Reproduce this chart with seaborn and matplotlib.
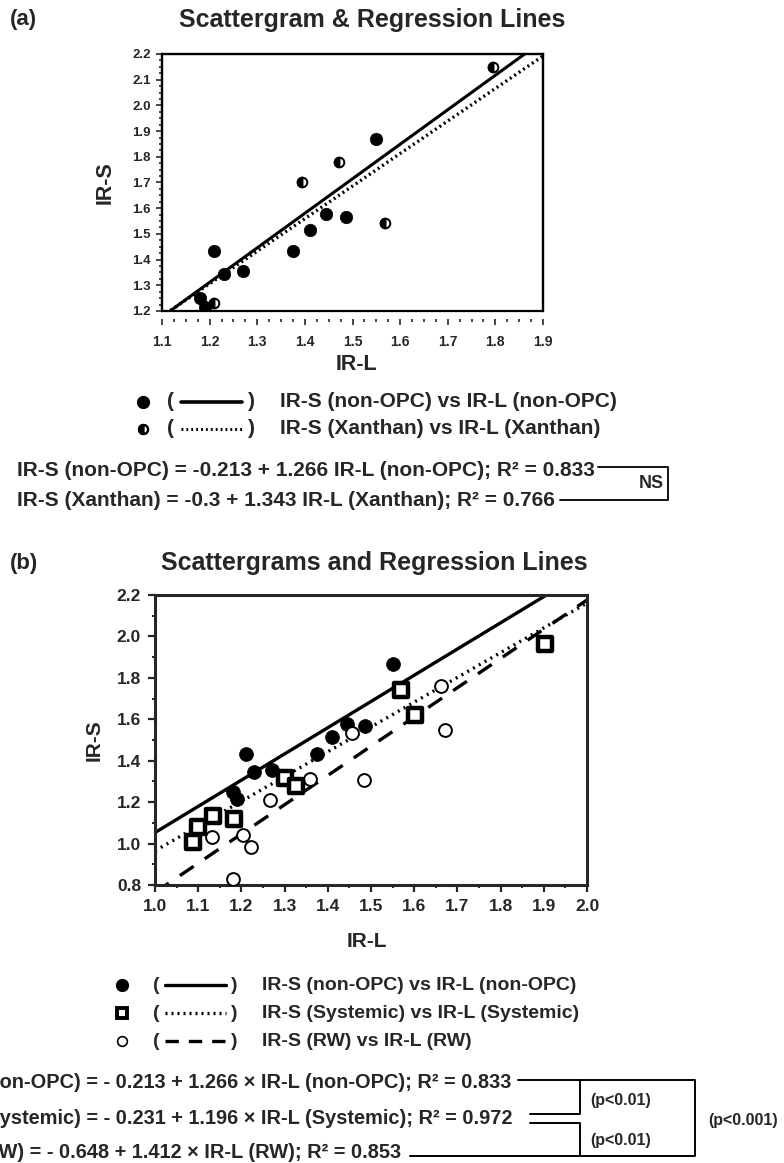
# %%
import numpy as np
import pandas as pd
import seaborn as sns
from matplotlib import pyplot as plt
from matplotlib.lines import Line2D
from matplotlib.markers import MarkerStyle
from matplotlib.patches import Rectangle
from matplotlib.ticker import MultipleLocator, FormatStrFormatter

# %%
# values
nonopc_x = [1.18, 1.19, 1.21, 1.23, 1.27, 1.375, 1.41, 1.445, 1.487, 1.55]
nonopc_y = [1.25, 1.215, 1.433, 1.345, 1.357, 1.434, 1.514, 1.577, 1.566, 1.868]

xanthan_x = [1.21, 1.395, 1.471, 1.568, 1.795]
xanthan_y = [1.233, 1.703, 1.779, 1.544, 2.15]

systemic_x = [1.089, 1.10, 1.135, 1.184, 1.302, 1.327, 1.57, 1.601, 1.903]
systemic_y = [1.01, 1.078, 1.132, 1.119, 1.318, 1.277, 1.739, 1.622, 1.962]

rw_x = [1.132, 1.18, 1.203, 1.222, 1.266, 1.359, 1.457, 1.484, 1.663, 1.671]
rw_y = [1.03, 0.828, 1.043, 0.983, 1.209, 1.31, 1.536, 1.305, 1.763, 1.548]

# regression coefficients (intercept, slope)
groups = ["non-OPC", "Xanthan", "Systemic", "RW"]
intercepts = [-0.213, -0.3, -0.231, -0.648]
slopes = [1.266, 1.343, 1.196, 1.412]
r2 = [0.833, 0.766, 0.972, 0.853]

W, H = 784, 1163


def fx(px):
    return px / W


def fy(py):
    return 1 - py / H


def axes_at(fig, left, top, right, bottom):
    return fig.add_axes([fx(left), fy(bottom), (right - left) / W, (bottom - top) / H])


def reg_line(ax, i, xlim, **kw):
    xs = np.array(xlim)
    ys = intercepts[i] + slopes[i] * xs
    sns.lineplot(x=xs, y=ys, ax=ax, color="black", legend=False, **kw)


def fline(fig, xs, ys, lw=1.4, **kw):
    fig.add_artist(Line2D([fx(v) for v in xs], [fy(v) for v in ys],
                          transform=fig.transFigure, color="black", lw=lw, **kw))


def fmark(fig, x, y, **kw):
    fig.add_artist(Line2D([fx(x)], [fy(y)], transform=fig.transFigure,
                          linestyle="none", color="black", **kw))


def style_axes(ax, tick_size, spine_w):
    ax.xaxis.set_major_formatter(FormatStrFormatter("%.1f"))
    ax.yaxis.set_major_formatter(FormatStrFormatter("%.1f"))
    for lab in ax.get_xticklabels() + ax.get_yticklabels():
        lab.set_fontweight("bold")
        lab.set_fontsize(tick_size)
    for sp in ax.spines.values():
        sp.set_linewidth(spine_w)
        sp.set_visible(True)


# %%
sns.set_style("ticks")
plt.rcParams["font.family"] = ["Liberation Sans", "DejaVu Sans"]
plt.rcParams["font.weight"] = "bold"

fig = plt.figure(figsize=(W / 100, H / 100), dpi=100)

# ---------------- panel (a) ----------------
ax1 = axes_at(fig, 162, 54, 543, 311)
xlim_a = (1.1, 1.9)
df_non = pd.DataFrame({"IR-L": nonopc_x, "IR-S": nonopc_y})
df_xan = pd.DataFrame({"IR-L": xanthan_x, "IR-S": xanthan_y})

# in the printed figure the steeper fit is the solid one
reg_line(ax1, 1, xlim_a, linewidth=2.2)
reg_line(ax1, 0, xlim_a, linewidth=2.4, linestyle=(0, (0.6, 1.0)))

sns.scatterplot(data=df_non, x="IR-L", y="IR-S", ax=ax1, color="black",
                s=80, edgecolor="black", linewidth=0.5, zorder=3)
sns.scatterplot(data=df_xan, x="IR-L", y="IR-S", ax=ax1, color="white",
                s=48, edgecolor="black", linewidth=1.4, zorder=3)
sns.scatterplot(data=df_xan, x="IR-L", y="IR-S", ax=ax1, color="black",
                marker=MarkerStyle("o", fillstyle="left"), s=48,
                edgecolor="black", linewidth=1.4, zorder=4)

ax1.set_xlim(*xlim_a)
ax1.set_ylim(1.2, 2.2)
ax1.xaxis.set_major_locator(MultipleLocator(0.1))
ax1.xaxis.set_minor_locator(MultipleLocator(0.025))
ax1.yaxis.set_major_locator(MultipleLocator(0.1))
ax1.yaxis.set_minor_locator(MultipleLocator(0.025))
ax1.tick_params(axis="both", which="major", length=4, width=1.2, pad=4)
ax1.tick_params(axis="both", which="minor", length=2, width=1.2)
ax1.tick_params(axis="x", which="major", pad=7)
style_axes(ax1, 9.5, 1.6)
# x ticks sit on a row just below the frame
ax1.spines["bottom"].set_position(("outward", 6))
ax1.spines["bottom"].set_visible(False)
ax1.add_patch(Rectangle((0, 0), 1, 1, transform=ax1.transAxes, fill=False,
                        lw=1.6, edgecolor="black", clip_on=False, zorder=5))
ax1.set_xlabel("IR-L", fontsize=15.5, fontweight="bold")
ax1.set_ylabel("IR-S", fontsize=15.5, fontweight="bold")
ax1.xaxis.set_label_coords(0.51, -0.167)
ax1.yaxis.set_label_coords(-0.123, 0.5)

fig.text(fx(10), fy(20), "(a)", fontsize=16, fontweight="bold", va="center")
fig.text(fx(372), fy(20), "Scattergram & Regression Lines", fontsize=18,
         fontweight="bold", ha="center", va="center")

# legend (a)
fmark(fig, 143, 402, marker="o", markersize=8.5)
fmark(fig, 143, 429, marker="o", markersize=6.5, markerfacecolor="white",
      markeredgewidth=1.6)
fmark(fig, 143, 429, marker="o", markersize=6.5, fillstyle="left",
      markerfacecoloralt="white", markeredgewidth=1.6)
for yy in (402, 429):
    fig.text(fx(171), fy(yy), "(", fontsize=15, va="center", ha="center")
    fig.text(fx(251), fy(yy), ")", fontsize=15, va="center", ha="center")
fline(fig, [181, 242], [402, 402], lw=2.6)
fline(fig, [181, 242], [429, 429], lw=2.2, linestyle=(0, (0.6, 1.0)))
fig.text(fx(280), fy(402), "IR-S (non-OPC) vs IR-L (non-OPC)", fontsize=15,
         fontweight="bold", va="center")
fig.text(fx(280), fy(429), "IR-S (Xanthan) vs IR-L (Xanthan)", fontsize=15,
         fontweight="bold", va="center")

# equations (a)
fig.text(fx(17), fy(470), "IR-S (non-OPC) = -0.213 + 1.266 IR-L (non-OPC); R² = 0.833",
         fontsize=15, fontweight="bold", va="center")
fig.text(fx(17), fy(500), "IR-S (Xanthan) = -0.3 + 1.343 IR-L (Xanthan); R² = 0.766",
         fontsize=15, fontweight="bold", va="center")
fline(fig, [598, 668, 668], [467, 467, 500], lw=1.3)
fline(fig, [560, 668], [500, 500], lw=1.3)
fig.text(fx(664), fy(484), "NS", fontsize=13, fontweight="bold", ha="right", va="center")

# ---------------- panel (b) ----------------
ax2 = axes_at(fig, 155, 595, 587, 885)
xlim_b = (1.0, 2.0)
df_sys = pd.DataFrame({"IR-L": systemic_x, "IR-S": systemic_y})
df_rw = pd.DataFrame({"IR-L": rw_x, "IR-S": rw_y})

reg_line(ax2, 0, xlim_b, linewidth=2.4)
reg_line(ax2, 2, xlim_b, linewidth=2.4, linestyle=(0, (0.6, 1.4)))
reg_line(ax2, 3, xlim_b, linewidth=2.4, linestyle=(0, (5, 4)))

sns.scatterplot(data=df_non, x="IR-L", y="IR-S", ax=ax2, color="black",
                s=100, edgecolor="black", linewidth=0.5, zorder=3)
sns.scatterplot(data=df_sys, x="IR-L", y="IR-S", ax=ax2, color="white",
                marker="s", s=100, edgecolor="black", linewidth=3.2, zorder=4)
sns.scatterplot(data=df_rw, x="IR-L", y="IR-S", ax=ax2, color="white",
                s=85, edgecolor="black", linewidth=1.4, zorder=3)

ax2.set_xlim(*xlim_b)
ax2.set_ylim(0.8, 2.2)
ax2.xaxis.set_major_locator(MultipleLocator(0.1))
ax2.xaxis.set_minor_locator(MultipleLocator(0.05))
ax2.yaxis.set_major_locator(MultipleLocator(0.2))
ax2.yaxis.set_minor_locator(MultipleLocator(0.1))
ax2.tick_params(axis="both", which="major", length=5, width=1.6, pad=5)
ax2.tick_params(axis="both", which="minor", length=2.5, width=1.4)
style_axes(ax2, 12.5, 2.2)
ax2.set_xlabel("IR-L", fontsize=15, fontweight="bold")
ax2.set_ylabel("IR-S", fontsize=15, fontweight="bold")
ax2.xaxis.set_label_coords(0.49, -0.162)
ax2.yaxis.set_label_coords(-0.118, 0.5)

fig.text(fx(10), fy(563), "(b)", fontsize=16, fontweight="bold", va="center")
fig.text(fx(374), fy(563), "Scattergrams and Regression Lines", fontsize=18,
         fontweight="bold", ha="center", va="center")

# legend (b)
rows_b = [985, 1013, 1041]
fmark(fig, 122, rows_b[0], marker="o", markersize=8.5)
fmark(fig, 122, rows_b[1], marker="s", markersize=7.5, markerfacecolor="white",
      markeredgewidth=2.8)
fmark(fig, 122, rows_b[2], marker="o", markersize=7, markerfacecolor="white",
      markeredgewidth=1.2)
styles_b = ["-", (0, (0.6, 1.2)), (0, (4, 3))]
labels_b = ["IR-S (non-OPC) vs IR-L (non-OPC)",
            "IR-S (Systemic) vs IR-L (Systemic)",
            "IR-S (RW) vs IR-L (RW)"]
for yy, ls, lab in zip(rows_b, styles_b, labels_b):
    fig.text(fx(156), fy(yy), "(", fontsize=14, va="center", ha="center")
    fig.text(fx(234), fy(yy), ")", fontsize=14, va="center", ha="center")
    fline(fig, [165, 226], [yy, yy], lw=2.4, linestyle=ls)
    fig.text(fx(262), fy(yy), lab, fontsize=14, fontweight="bold", va="center")

# equations (b), left part runs off the page as in the original
eq_b = ["IR-S (non-OPC) = - 0.213 + 1.266 × IR-L (non-OPC); R² = 0.833",
        "IR-S (Systemic) = - 0.231 + 1.196 × IR-L (Systemic); R² = 0.972",
        "IR-S (RW) = - 0.648 + 1.412 × IR-L (RW); R² = 0.853"]
eq_end = [511, 513, 401]
eq_y = [1083, 1118, 1152]
for txt, xe, yy in zip(eq_b, eq_end, eq_y):
    fig.text(fx(xe), fy(yy), txt, fontsize=14.4, fontweight="bold", ha="right",
             va="center")

fline(fig, [518, 695, 695, 410], [1080, 1080, 1156, 1156], lw=1.4)
fline(fig, [530, 580, 580], [1114, 1114, 1080], lw=1.4)
fline(fig, [530, 580, 580], [1123, 1123, 1156], lw=1.4)
fig.text(fx(590), fy(1100), "(p<0.01)", fontsize=11.5, fontweight="bold", va="center")
fig.text(fx(590), fy(1140), "(p<0.01)", fontsize=11.5, fontweight="bold", va="center")
fig.text(fx(708), fy(1121), "(p<0.001)", fontsize=11.5, fontweight="bold", va="center")

fig.savefig("out.png", dpi=100)
